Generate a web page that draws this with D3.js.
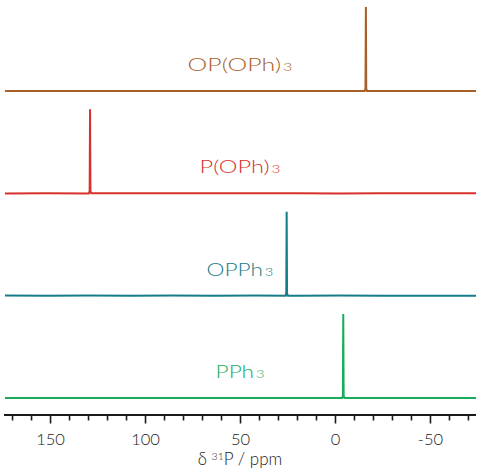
<!DOCTYPE html>
<html>
<head>
<meta charset="utf-8">
<script src="https://cdn.jsdelivr.net/npm/d3@7"></script>
<style>
html,body{margin:0;padding:0;background:#fff;}
svg{display:block;}
</style>
</head>
<body>
<svg id="chart" width="485" height="471"></svg>
<script>
// ---- data ----
const compounds = ["OP(OPh)", "P(OPh)", "OPPh", "PPh"];
const subscripts = ["3", "3", "3", "3"];
const colors = ["#a95f28", "#d8302c", "#147d88", "#1aac5c"];
const peakShifts = [-16.0, 129.2, 25.7, -4.1];
const peakHeights = [1.0, 1.0, 1.0, 1.0];
const baselineNoise = [0.0006, -0.0004, 0.0006, -0.0006, 0.0004, -0.0006, 0.0006, -0.0004, 0.0006, -0.0004, 0.0006, -0.0006];
const noisePpm = [174, 152, 130, 108, 86, 64, 42, 20, -2, -24, -46, -74];
const majorTicks = [150, 100, 50, 0, -50];
const minorTicks = [170, 160, 140, 130, 120, 110, 90, 80, 70, 60, 40, 30, 20, 10, -10, -20, -30, -40, -60, -70];
const labelWidths = [103, 79, 65, 47];

// ---- scales ----
const svg = d3.select("#chart");
const x = d3.scaleLinear().domain([174.5, -74.5]).range([4, 477]);
const row = d3.scalePoint().domain(compounds).range([91, 398]);
const inten = d3.scaleLinear().domain([0, 1]).range([0, -84]);

function spectrum(i) {
  const pk = peakShifts[i];
  const pts = noisePpm.map((p, k) => [p, baselineNoise[(k + i * 3) % baselineNoise.length]]);
  pts.push([pk + 0.6, 0], [pk + 0.2, 0.03], [pk, peakHeights[i]], [pk - 0.2, 0.03], [pk - 0.6, 0]);
  pts.sort((a, b) => b[0] - a[0]);
  return pts;
}

const line = d3.line().x(d => x(d[0])).y(d => inten(d[1]));

const fontFam = "Lato, 'DejaVu Sans', sans-serif";
const labelX = 240;
compounds.forEach((c, i) => {
  const g = svg.append("g").attr("transform", `translate(0,${row(c)})`);
  g.append("path")
    .datum(spectrum(i))
    .attr("d", line)
    .attr("fill", "none")
    .attr("stroke", colors[i])
    .attr("stroke-width", 2)
    .attr("stroke-linejoin", "miter");
  const lg = g.append("g");
  const t = lg.append("text")
    .attr("x", 0)
    .attr("y", 0)
    .attr("text-anchor", "middle")
    .attr("fill", colors[i])
    .attr("font-family", fontFam)
    .attr("font-weight", 300)
    .attr("font-size", 18.5);
  t.append("tspan").text(c);
  t.append("tspan").attr("font-size", 12).attr("dx", 1.5).text(subscripts[i]);
  const w = t.node().getComputedTextLength();
  const sx = labelWidths[i] / w;
  lg.attr("transform", `translate(${labelX},-20) scale(${sx},1)`);
});

// ---- axis ----
const axisY = 415;
const axisG = svg.append("g").attr("transform", `translate(0,${axisY})`);
axisG.append("line")
  .attr("x1", 4).attr("x2", 476)
  .attr("stroke", "#1a1a1a").attr("stroke-width", 2);
axisG.selectAll("line.minor").data(minorTicks).join("line")
  .attr("class", "minor")
  .attr("x1", d => x(d)).attr("x2", d => x(d))
  .attr("y1", 0).attr("y2", 5.5)
  .attr("stroke", "#1a1a1a").attr("stroke-width", 1.6);
axisG.selectAll("line.major").data(majorTicks).join("line")
  .attr("class", "major")
  .attr("x1", d => x(d)).attr("x2", d => x(d))
  .attr("y1", 0).attr("y2", 8.5)
  .attr("stroke", "#1a1a1a").attr("stroke-width", 1.6);
axisG.selectAll("text.tick").data(majorTicks).join("text")
  .attr("class", "tick")
  .attr("x", d => x(d))
  .attr("y", 29.5)
  .attr("text-anchor", "middle")
  .attr("fill", "#1a1a1a")
  .attr("font-family", fontFam)
  .attr("font-weight", 300)
  .attr("font-size", 16.5)
  .text(d => d < 0 ? "-" + Math.abs(d) : d);

const title = svg.append("text")
  .attr("x", 240).attr("y", 465)
  .attr("text-anchor", "middle")
  .attr("fill", "#1a1a1a")
  .attr("font-family", fontFam)
  .attr("font-weight", 300)
  .attr("font-size", 17);
title.append("tspan").text("δ ");
title.append("tspan").attr("font-size", 10.5).attr("dy", -5.5).text("31");
title.append("tspan").attr("dy", 5.5).text("P / ppm");
</script>
</body>
</html>
